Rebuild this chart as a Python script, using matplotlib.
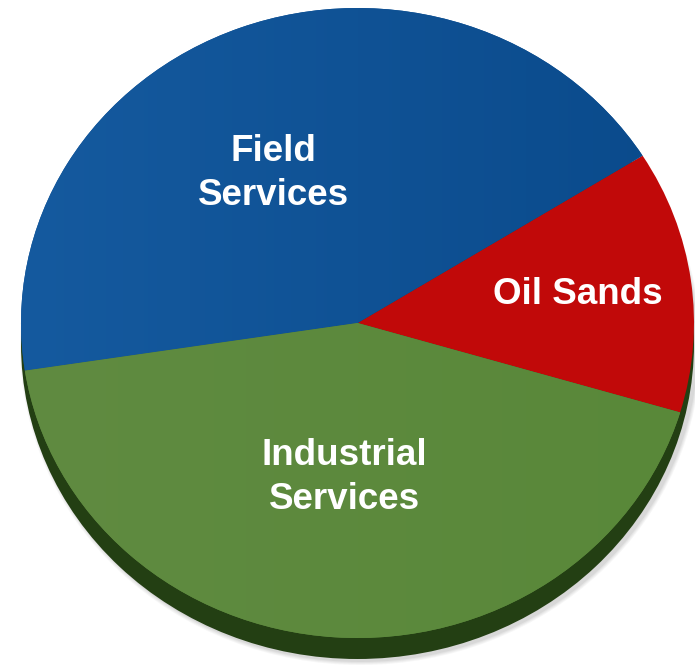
import numpy as np
import matplotlib
matplotlib.use("Agg")
import matplotlib.pyplot as plt
from matplotlib.patches import Ellipse

# Datos del grafico
segmentos = ['Oil Sands', 'Field Services', 'Industrial Services']
etiquetas = ['Oil Sands', 'Field\nServices', 'Industrial\nServices']
porcentajes = [13.5, 43.5, 43.0]
colores = ['#c10909', '#0e5094', '#5c883d']
inicio = -16.5

# Posiciones de las etiquetas (coordenadas del eje de la tarta)
pos_etiquetas = [(0.655, 0.09), (-0.25, 0.475), (-0.04, -0.49)]

W, H = 695, 668
fig = plt.figure(figsize=(W / 100, H / 100), dpi=100)

# Caja de la cara superior de la tarta en pixeles
izq, arriba, ancho, alto = 21, 8, 673, 630
fondo = 21  # grosor del borde 3D

# Eje de fondo para sombra y borde
axf = fig.add_axes([0, 0, 1, 1])
axf.set_xlim(0, W)
axf.set_ylim(H, 0)
axf.axis('off')
cx = izq + ancho / 2
cy = arriba + alto / 2
for i, a in enumerate([0.05, 0.05, 0.06, 0.08]):
    d = 8 - 2 * i
    axf.add_patch(Ellipse((cx + 3, cy + fondo + 2), ancho + d, alto + d,
                          color='#555555', alpha=a, lw=0))
axf.add_patch(Ellipse((cx, cy + fondo), ancho, alto, color='#233f13', lw=0))

# Eje de la tarta
ax = fig.add_axes([izq / W, (H - arriba - alto) / H, ancho / W, alto / H])
cunas, textos = ax.pie(porcentajes, colors=colores, startangle=inicio,
                       counterclock=True, radius=1,
                       wedgeprops=dict(linewidth=0))
ax.set_aspect('auto')
ax.axis('off')

# Degradado suave en azul y verde
grad = np.linspace(0, 1, 256).reshape(1, -1)
for cuna, c1, c2 in [(cunas[1], '#155a9f', '#0a4a8b'),
                     (cunas[2], '#608b41', '#598839')]:
    cmap = matplotlib.colors.LinearSegmentedColormap.from_list('g', [c1, c2])
    im = ax.imshow(grad, extent=[-1, 1, -1, 1], cmap=cmap, aspect='auto',
                   zorder=1.5)
    im.set_clip_path(cuna)
ax.set_xlim(-1, 1)
ax.set_ylim(-1, 1)

for txt, (x, y) in zip(etiquetas, pos_etiquetas):
    ax.text(x, y, txt, ha='center', va='center', color='white',
            fontsize=26.5, fontweight='bold', family='Liberation Sans',
            linespacing=1.32, zorder=5)

fig.savefig('out.png', dpi=100)
